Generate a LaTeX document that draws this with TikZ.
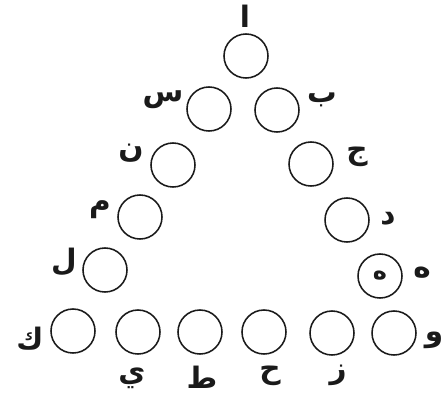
\documentclass[tikz,border=0pt]{standalone}
\usepackage{fontspec}
\newfontfamily\arabicfont[Script=Arabic]{DejaVu Sans}
\TeXXeTstate=1
\usetikzlibrary{calc}
\definecolor{abink}{HTML}{1A1A1A}
\tikzset{
  ab disc/.style={circle, draw=abink, line width=1.1pt, minimum size=1.1cm,
    inner sep=0pt, font=\arabicfont\bfseries\fontsize{17}{19}\selectfont, text=abink},
  ab letter/.style={font=\arabicfont\bfseries\fontsize{21}{24}\selectfont, text=abink,
    inner sep=0pt}
}

\begin{document}
\begin{tikzpicture}[x=0.025cm, y=0.025cm]
  \useasboundingbox (0,0) rectangle (444,396);
  % left side, top down
  \node[ab disc] (alif) at (246,340) {};
  \node[ab disc] (sin) at (209,287) {};
  \node[ab disc] (nun) at (173,231) {};
  \node[ab disc] (mim) at (140,179) {};
  \node[ab disc] (lam) at (105,126) {};
  \node[ab disc] (kaf) at (73,65) {};
  % right side, top down
  \node[ab disc] (ba) at (277,286) {};
  \node[ab disc] (jim) at (311,232) {};
  \node[ab disc] (dal) at (347,176) {};
  \node[ab disc] (ha) at (380,120) {\beginR ه\endR};
  \node[ab disc] (waw) at (394,63) {};
  % bottom row
  \node[ab disc] (ya) at (138,64) {};
  \node[ab disc] (ta) at (200,64) {};
  \node[ab disc] (hha) at (264,64) {};
  \node[ab disc] (zay) at (332,63) {};
  % letters
  \node[ab letter] (l-alif) at ($(alif)+(-1,40)$) {\beginR ا\endR};
  \node[ab letter] (l-sin) at ($(sin)+(-46,9)$) {\beginR س\endR};
  \node[ab letter] (l-nun) at ($(nun)+(-42,12)$) {\beginR ن\endR};
  \node[ab letter] (l-mim) at ($(mim)+(-40,7)$) {\beginR م\endR};
  \node[ab letter] (l-lam) at ($(lam)+(-41,8)$) {\beginR ل\endR};
  \node[ab letter] (l-kaf) at ($(kaf)+(-43,-8)$) {\beginR ك\endR};
  \node[ab letter] (l-ba) at ($(ba)+(45,10)$) {\beginR ب\endR};
  \node[ab letter] (l-jim) at ($(jim)+(46,7)$) {\beginR ج\endR};
  \node[ab letter] (l-dal) at ($(dal)+(41,1)$) {\beginR د\endR};
  \node[ab letter] (l-ha) at ($(ha)+(42,3)$) {\beginR ه\endR};
  \node[ab letter] (l-waw) at ($(waw)+(40,-7)$) {\beginR و\endR};
  \node[ab letter] (l-ya) at ($(ya)+(-6,-46)$) {\beginR ي\endR};
  \node[ab letter] (l-ta) at ($(ta)+(2,-45)$) {\beginR ط\endR};
  \node[ab letter] (l-hha) at ($(hha)+(6,-44)$) {\beginR ح\endR};
  \node[ab letter] (l-zay) at ($(zay)+(6,-42)$) {\beginR ز\endR};
\end{tikzpicture}
\end{document}
